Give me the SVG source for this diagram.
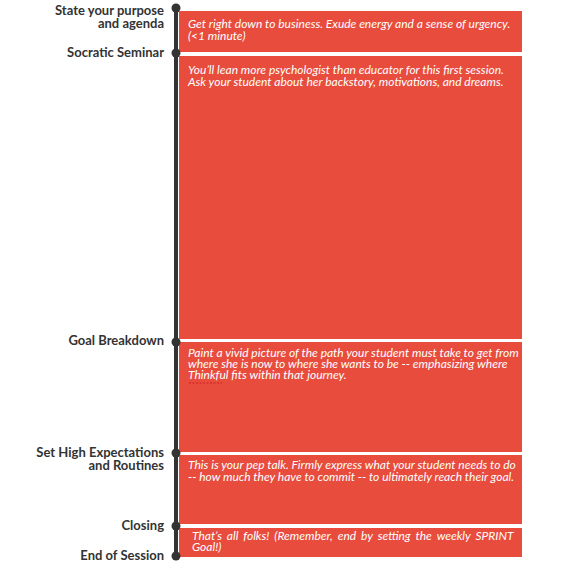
<svg xmlns="http://www.w3.org/2000/svg" width="565" height="568" viewBox="0 0 565 568">
  <style>
    .box { fill: #e74c3c; }
    .desc { font-family: Lato, "Open Sans", sans-serif; font-style: italic; font-size: 12px; fill: #ffffff; }
    .label { font-family: Lato, "Open Sans", sans-serif; font-weight: bold; font-size: 13px; fill: #333333; text-anchor: end; }
    .dot { fill: #333333; }
    .axis { stroke: #333333; stroke-width: 4; }
    .squiggle { stroke: #d21f1f; stroke-width: 1.2; stroke-dasharray: 2 1.5; }
  </style>
  <rect width="565" height="568" fill="#ffffff"/>

  <!-- timeline axis -->
  <g id="connectors">
    <line class="axis" x1="176" y1="8" x2="176" y2="556"/>
  </g>

  <g id="stage-purpose">
    <rect class="box" x="179" y="11" width="343" height="41"/>
    <circle class="dot" cx="176" cy="8" r="4.5"/>
    <text class="label" x="164" y="15">State your purpose</text>
    <text class="label" x="164" y="28">and agenda</text>
    <text class="desc" x="188" y="28">Get right down to business. Exude energy and a sense of urgency.</text>
    <text class="desc" x="188" y="40">(&lt;1 minute)</text>
  </g>

  <g id="stage-socratic">
    <rect class="box" x="179" y="56" width="343" height="283"/>
    <circle class="dot" cx="176" cy="53" r="4.5"/>
    <text class="label" x="164" y="57">Socratic Seminar</text>
    <text class="desc" x="188" y="74">You’ll lean more psychologist than educator for this first session.</text>
    <text class="desc" x="188" y="86">Ask your student about her backstory, motivations, and dreams.</text>
  </g>

  <g id="stage-goal">
    <rect class="box" x="179" y="342" width="343" height="110"/>
    <circle class="dot" cx="176" cy="342" r="4.5"/>
    <text class="label" x="164" y="345">Goal Breakdown</text>
    <text class="desc" x="188" y="357">Paint a vivid picture of the path your student must take to get from</text>
    <text class="desc" x="188" y="368">where she is now to where she wants to be -- emphasizing where</text>
    <text class="desc" x="188" y="379">Thinkful fits within that journey.</text>
    <line class="squiggle" x1="189" y1="383" x2="222" y2="383"/>
  </g>

  <g id="stage-expectations">
    <rect class="box" x="179" y="455" width="343" height="69"/>
    <circle class="dot" cx="176" cy="453" r="4.5"/>
    <text class="label" x="164" y="457">Set High Expectations</text>
    <text class="label" x="164" y="470">and Routines</text>
    <text class="desc" x="188" y="469">This is your pep talk. Firmly express what your student needs to do</text>
    <text class="desc" x="188" y="481">-- how much they have to commit -- to ultimately reach their goal.</text>
  </g>

  <g id="stage-closing">
    <rect class="box" x="179" y="528" width="343" height="29"/>
    <circle class="dot" cx="176" cy="526" r="4.5"/>
    <text class="label" x="164" y="530">Closing</text>
    <text class="desc" x="192" y="540" word-spacing="2.1">That’s all folks! (Remember, end by setting the weekly SPRINT</text>
    <text class="desc" x="192" y="551">Goal!)</text>
  </g>

  <g id="stage-end">
    <circle class="dot" cx="176" cy="556" r="4.5"/>
    <text class="label" x="164" y="560">End of Session</text>
  </g>
</svg>
